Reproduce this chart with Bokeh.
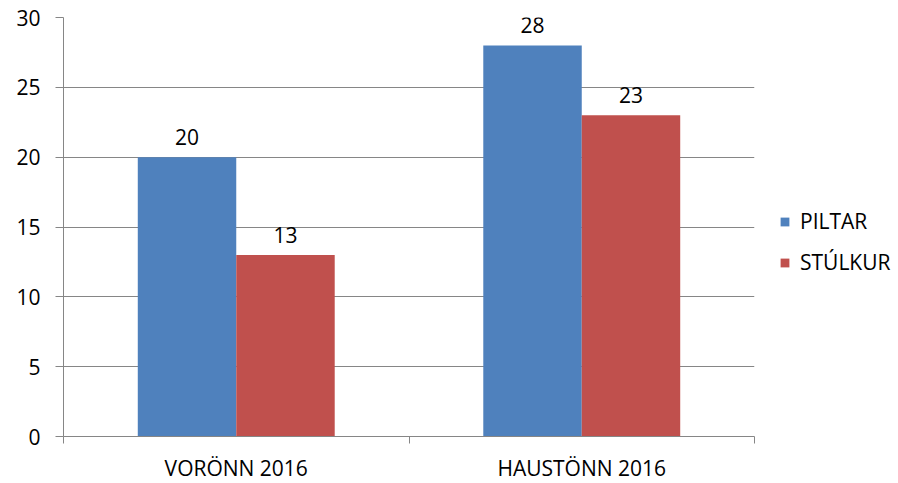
from bokeh.plotting import figure
from bokeh.models import (Range1d, FixedTicker, ColumnDataSource, LabelSet,
                          Legend, LegendItem)
from bokeh.core.properties import value
from bokeh.embed import file_html
from bokeh.resources import INLINE

# ---- data ----
categories = ["VORÖNN 2016", "HAUSTÖNN 2016"]
series_names = ["PILTAR", "STÚLKUR"]
piltar = [20, 28]
stulkur = [13, 23]
y_ticks = [0, 5, 10, 15, 20, 25, 30]

BLUE = "#4F81BD"
RED = "#C0504D"
GRID = "#868686"
FONT = "Open Sans"
FS = "21px"
BAR_W = 0.285

centers = [i + 0.5 for i in range(len(categories))]
bounds = [float(i) for i in range(len(categories) + 1)]

p = figure(frame_width=691, frame_height=419, output_backend="svg",
           toolbar_location=None,
           x_range=Range1d(0, len(categories)), y_range=Range1d(0, 30),
           min_border_left=63, min_border_right=0, min_border_top=17,
           min_border_bottom=46)
p.outline_line_color = None
p.background_fill_color = "white"
p.border_fill_color = "white"

src_b = ColumnDataSource(dict(x=[c - BAR_W / 2 for c in centers], top=piltar,
                              lab=[str(v) for v in piltar]))
src_r = ColumnDataSource(dict(x=[c + BAR_W / 2 for c in centers], top=stulkur,
                              lab=[str(v) for v in stulkur]))

rb = p.vbar(x="x", top="top", width=BAR_W, bottom=0, source=src_b,
            fill_color=BLUE, line_color=None)
rr = p.vbar(x="x", top="top", width=BAR_W, bottom=0, source=src_r,
            fill_color=RED, line_color=None)

for src in (src_b, src_r):
    p.add_layout(LabelSet(x="x", y="top", text="lab", source=src, y_offset=12,
                          text_align="center", text_baseline="bottom",
                          text_font=value(FONT), text_font_size=value(FS),
                          text_color="black"))

# x axis
xa = p.xaxis[0]
xa.ticker = FixedTicker(ticks=centers, minor_ticks=bounds)
xa.major_label_overrides = {c: n for c, n in zip(centers, categories)}
xa.major_tick_out = 0
xa.major_tick_in = 0
xa.minor_tick_out = 7
xa.minor_tick_in = 0
xa.minor_tick_line_color = GRID
xa.axis_line_color = GRID
xa.major_label_standoff = 10
xa.major_label_text_font = FONT
xa.major_label_text_font_size = FS
xa.major_label_text_color = "black"

# y axis
ya = p.yaxis[0]
ya.ticker = FixedTicker(ticks=y_ticks)
ya.major_tick_out = 8
ya.major_tick_in = 0
ya.minor_tick_line_color = None
ya.major_tick_line_color = GRID
ya.axis_line_color = GRID
ya.major_label_standoff = 15
ya.major_label_text_font = FONT
ya.major_label_text_font_size = FS
ya.major_label_text_color = "black"

p.xgrid.visible = False
p.ygrid.ticker = FixedTicker(ticks=y_ticks)
p.ygrid.grid_line_color = GRID
p.ygrid.grid_line_width = 1

legend = Legend(items=[LegendItem(label=series_names[0], renderers=[rb]),
                       LegendItem(label=series_names[1], renderers=[rr])],
                location=(25, 160), orientation="vertical",
                glyph_width=11, glyph_height=11, label_height=22,
                label_standoff=10, spacing=13, padding=0, margin=0,
                border_line_color=None, background_fill_alpha=0,
                label_text_font=FONT, label_text_font_size=FS,
                label_text_color="black")
p.add_layout(legend, "right")

open("out.html", "w").write(file_html(p, INLINE))
